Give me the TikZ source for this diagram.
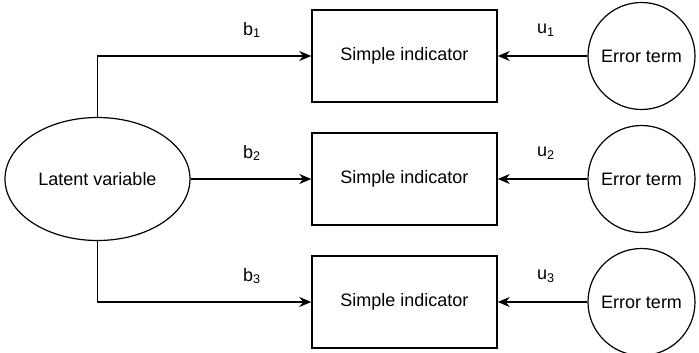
\documentclass[tikz,border=0pt]{standalone}
\usepackage{fontspec}
\setmainfont{Liberation Sans}
\usetikzlibrary{arrows.meta,shapes.geometric}
\begin{document}
\begin{tikzpicture}[x=0.75pt,y=-0.75pt,
  every node/.style={font=\fontsize{13.5}{16}\selectfont, inner sep=0pt},
  indicator/.style={draw, line width=1.1pt, rectangle, minimum width=138.75pt, minimum height=69pt},
  latent/.style={draw, line width=0.9pt, ellipse, minimum width=138.75pt, minimum height=92.25pt},
  errterm/.style={draw, line width=0.9pt, circle, minimum size=80.25pt},
  link/.style={line width=1.1pt, -{Stealth[length=9pt,width=7.5pt]}},
  coef/.style={font=\fontsize{13.5}{16}\selectfont}
]
\useasboundingbox (0,0) rectangle (699,353);

% latent variable
\node[latent] (lv) at (97.5,179) {Latent variable};

% indicators
\node[indicator] (s1) at (404.5,56) {Simple indicator};
\node[indicator] (s2) at (404.5,179) {Simple indicator};
\node[indicator] (s3) at (404.5,302) {Simple indicator};

% error terms
\node[errterm] (e1) at (641.5,56) {Error term};
\node[errterm] (e2) at (641.5,179) {Error term};
\node[errterm] (e3) at (641.5,302) {Error term};

% loadings
\draw[link] (lv.north) |- (s1.west);
\draw[link] (lv.east) -- (s2.west);
\draw[link] (lv.south) |- (s3.west);

% error paths
\draw[link] (e1.west) -- (s1.east);
\draw[link] (e2.west) -- (s2.east);
\draw[link] (e3.west) -- (s3.east);

% coefficient labels
\node[coef] (b1) at (252,30) {b\textsubscript{1}};
\node[coef] (b2) at (252,153) {b\textsubscript{2}};
\node[coef] (b3) at (252,276) {b\textsubscript{3}};
\node[coef] (u1) at (546,30) {u\textsubscript{1}};
\node[coef] (u2) at (546,153) {u\textsubscript{2}};
\node[coef] (u3) at (546,276) {u\textsubscript{3}};
\end{tikzpicture}
\end{document}
